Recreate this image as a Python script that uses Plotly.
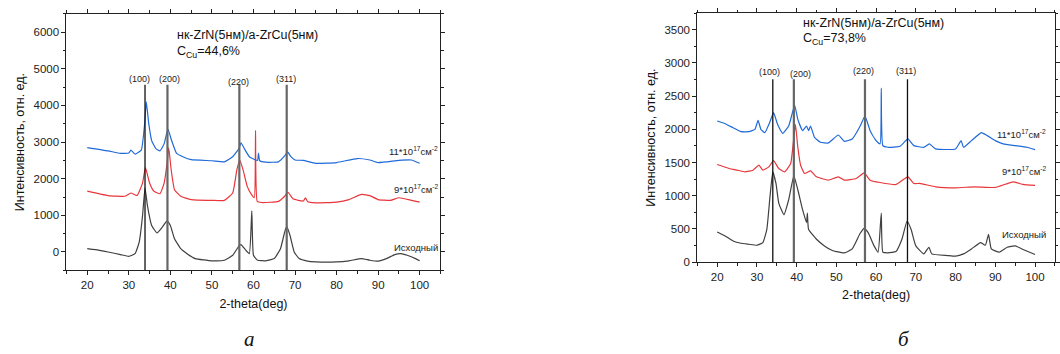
import plotly.graph_objects as go

# ---------------- data: panel a (C_Cu = 44,6%) ----------------
a_blue_x = [20, 25, 28, 30, 30.5, 31.5, 33, 33.8, 34.2, 34.8, 35.5, 36.5, 37.5, 38.5, 39.4, 40.3, 41.5, 43, 45, 50, 53, 55, 56.5, 57, 57.8, 59, 60.5, 61.0, 61.2, 61.5, 63, 66, 67.5, 68.2, 69, 70, 72, 75, 80, 85, 88, 90, 95, 98, 100]
a_blue_y = [2850, 2760, 2690, 2700, 2780, 2670, 2780, 3490, 4100, 3500, 3040, 2820, 2760, 2950, 3350, 3040, 2690, 2600, 2520, 2490, 2460, 2600, 2820, 2980, 2820, 2600, 2510, 2500, 2700, 2490, 2450, 2460, 2620, 2730, 2600, 2510, 2500, 2420, 2440, 2550, 2510, 2440, 2500, 2510, 2420]

a_red_x = [20, 25, 29, 30.5, 32, 33.3, 34, 35, 36, 37.5, 38.5, 39.2, 39.6, 40.2, 41, 42.5, 45, 50, 53, 55, 56, 56.7, 57.5, 58.5, 59.5, 60.2, 60.5, 60.9, 62, 66, 67.5, 68.3, 69.5, 72, 72.5, 73, 75, 80, 83, 86, 88, 90, 93, 95, 98, 100]
a_red_y = [1660, 1540, 1520, 1610, 1540, 1880, 2300, 1880, 1660, 1590, 1880, 2420, 2850, 2240, 1700, 1520, 1430, 1410, 1410, 1610, 2240, 2510, 2240, 1790, 1570, 1480, 3320, 1380, 1350, 1380, 1520, 1630, 1450, 1390, 1480, 1380, 1340, 1360, 1430, 1570, 1540, 1430, 1410, 1480, 1410, 1360]

a_gray_x = [20, 23, 25, 28, 30, 31.5, 32.5, 33.3, 33.9, 34.5, 35.5, 36.8, 38, 39.2, 40, 41, 42.5, 44, 46, 50, 53, 55, 56.5, 57, 58, 59, 59.6, 60, 61, 63, 65, 66.5, 67.5, 68, 68.8, 69.8, 71, 73, 75, 80, 83, 86, 88, 90, 92, 94, 95.5, 97, 99, 100]
a_gray_y = [90, 45, 0, -70, -120, -45, 270, 985, 1750, 1250, 720, 520, 670, 850, 720, 360, 90, -45, -180, -240, -225, -90, 160, 200, 70, -45, 1120, -90, -225, -240, -180, 90, 540, 690, 450, 0, -180, -250, -270, -270, -240, -180, -225, -250, -180, -70, -45, -90, -180, -240]

a_peak_x = [33.9, 39.3, 56.6, 68.0]

# ---------------- data: panel б (C_Cu = 73,8%) ----------------
b_blue_x = [20, 22, 24, 26, 28, 29.5, 30.3, 31, 32, 33.2, 34.2, 35.2, 36.5, 38, 39.5, 40.3, 41.5, 42.5, 43, 43.5, 44.5, 46, 48, 50.5, 52, 54, 56, 57.2, 58.5, 60, 61, 61.3, 61.7, 63, 66, 68, 69.5, 72, 73.4, 75, 80, 81.4, 82, 84, 86.5, 88, 90, 92, 95, 98, 100]
b_blue_y = [2125, 2085, 2025, 1965, 1965, 2000, 2135, 2000, 1950, 2100, 2250, 2075, 1940, 2050, 2360, 2150, 1980, 2050, 1980, 2050, 1880, 1805, 1795, 1915, 1820, 1855, 2050, 2200, 1980, 1830, 1780, 2620, 1755, 1730, 1745, 1855, 1755, 1730, 1780, 1705, 1705, 1830, 1730, 1830, 1950, 1905, 1830, 1780, 1755, 1730, 1695]

b_red_x = [20, 23, 25, 27, 29, 30.5, 31.5, 33, 34.2, 35.5, 37, 38.5, 39.3, 39.7, 40.3, 41, 42, 43.5, 45, 48, 50.5, 52, 55, 57, 58.5, 61, 65, 68, 69.5, 71, 75, 80, 85, 90, 94.5, 97, 100]
b_red_y = [1470, 1410, 1385, 1360, 1385, 1460, 1385, 1435, 1530, 1410, 1360, 1485, 1880, 2075, 1730, 1460, 1335, 1375, 1285, 1235, 1285, 1235, 1260, 1345, 1235, 1200, 1170, 1285, 1185, 1185, 1135, 1120, 1135, 1125, 1210, 1170, 1155]

b_gray_x = [20, 22, 24, 26, 28, 30, 31.5, 32.5, 33.3, 34, 34.8, 35.5, 36.8, 38, 39.3, 40.3, 41.5, 42.5, 42.7, 43, 45, 47, 49, 50, 52, 54, 56, 57, 58, 59.5, 60.5, 61.3, 61.7, 63, 65, 66.5, 67.8, 68.8, 70, 72, 73.3, 74, 78, 80, 82, 84, 86.3, 87.5, 88.3, 89, 91, 93, 95, 97, 100]
b_gray_y = [455, 395, 320, 285, 270, 255, 295, 495, 990, 1360, 1185, 890, 715, 940, 1300, 1090, 790, 595, 740, 495, 345, 245, 175, 160, 140, 200, 435, 510, 445, 245, 150, 740, 150, 140, 160, 345, 620, 495, 245, 125, 225, 125, 100, 90, 125, 200, 295, 255, 420, 200, 150, 225, 245, 190, 115]

b_peak_x = [34.0, 39.3, 57.2, 67.9]

peak_labels = ["(100)", "(200)", "(220)", "(311)"]
series_labels = ["11*10<sup>17</sup>см<sup>-2</sup>", "9*10<sup>17</sup>см<sup>-2</sup>", "Исходный"]

BLUE = "#1f6ad8"
RED = "#e8363a"
GRAY = "#404040"
FONT = "Liberation Sans, Arial, sans-serif"

fig = go.Figure()

def add_panel(xa, ya, blue, red, gray, peaks, ymin, ytop, lab_pos, series_y, series_x, title_y, ccu):
    for (xs, ys), col in zip([gray, red, blue], [GRAY, RED, BLUE]):
        fig.add_trace(go.Scatter(x=xs, y=ys, mode="lines",
                                 line=dict(color=col, width=1.2, shape="spline", smoothing=0.4),
                                 xaxis=xa, yaxis=ya, showlegend=False, hoverinfo="skip"))
    widths = [1.3, 2.2, 2.2, 2.2] if xa == "x" else [1.3, 2.2, 2.2, 1.3]
    cols = ["#111111", "#666666", "#666666", "#666666"] if xa == "x" else ["#111111", "#666666", "#666666", "#111111"]
    for p, w, c in zip(peaks, widths, cols):
        fig.add_trace(go.Scatter(x=[p, p], y=[ymin, ytop], mode="lines", line=dict(color=c, width=w),
                                 xaxis=xa, yaxis=ya, showlegend=False, hoverinfo="skip"))
    for lbl, (lx, ly) in zip(peak_labels, lab_pos):
        fig.add_annotation(x=lx, y=ly, xref=xa, yref=ya, text=lbl, showarrow=False,
                           font=dict(family=FONT, size=9, color="#222"), xanchor="center", yanchor="middle")
    for lbl, sy in zip(series_labels, series_y):
        fig.add_annotation(x=series_x, y=sy, xref=xa, yref=ya, text=lbl, showarrow=False,
                           font=dict(family=FONT, size=9.5, color="#222"), xanchor="right", yanchor="middle")
    fig.add_annotation(x=41.0, y=title_y[0], xref=xa, yref=ya, text="нк-ZrN(5нм)/a-ZrCu(5нм)", showarrow=False,
                       font=dict(family=FONT, size=12.5, color="#111"), xanchor="left", yanchor="middle")
    fig.add_annotation(x=41.0, y=title_y[1], xref=xa, yref=ya, text="C<sub>Cu</sub>=" + ccu, showarrow=False,
                       font=dict(family=FONT, size=12.5, color="#111"), xanchor="left", yanchor="middle")

add_panel("x", "y", (a_blue_x, a_blue_y), (a_red_x, a_red_y), (a_gray_x, a_gray_y), a_peak_x,
          -500, 4560,
          [(32.5, 4730), (39.7, 4730), (56.5, 4650), (67.9, 4730)],
          [2760, 1710, 135], 104.95, (5910, 5450), "44,6%")
add_panel("x2", "y2", (b_blue_x, b_blue_y), (b_red_x, b_red_y), (b_gray_x, b_gray_y), b_peak_x,
          0, 2755,
          [(33.2, 2857), (40.9, 2840), (56.8, 2885), (67.5, 2885)],
          [1937, 1374, 420], 103.3, (3600, 3360), "73,8%")

axis_common = dict(showline=True, linecolor="#222", linewidth=1, mirror="allticks", ticks="outside",
                   ticklen=4, tickwidth=1, tickcolor="#222", showgrid=False, zeroline=False,
                   tickfont=dict(family=FONT, size=11.5, color="#222"))

fig.update_layout(
    width=1060, height=354, margin=dict(l=0, r=0, t=0, b=0),
    paper_bgcolor="white", plot_bgcolor="white",
    xaxis=dict(domain=[0.0629, 0.4167], range=[15, 105], tickvals=[20, 30, 40, 50, 60, 70, 80, 90, 100],
               minor=dict(dtick=5, tick0=0, ticks="outside", ticklen=2.5, tickcolor="#222"),
               title=dict(text="2-theta(deg)", font=dict(family=FONT, size=12.5, color="#111"), standoff=9),
               anchor="y", **axis_common),
    yaxis=dict(domain=[0.2232, 0.9605], range=[-500, 6500], tickvals=[0, 1000, 2000, 3000, 4000, 5000, 6000],
               minor=dict(dtick=500, tick0=0, ticks="outside", ticklen=2.5, tickcolor="#222"),
               title=dict(text="Интенсивность, отн. ед.", font=dict(family=FONT, size=12.5, color="#111"), standoff=6),
               anchor="x", **axis_common),
    xaxis2=dict(domain=[0.6597, 0.998], range=[15, 105], tickvals=[20, 30, 40, 50, 60, 70, 80, 90, 100],
                minor=dict(dtick=5, tick0=0, ticks="outside", ticklen=2.5, tickcolor="#222"),
                title=dict(text="2-theta(deg)", font=dict(family=FONT, size=12.5, color="#111"), standoff=8),
                anchor="y2", **axis_common),
    yaxis2=dict(domain=[0.2466, 0.9624], range=[0, 3750], tickvals=[0, 500, 1000, 1500, 2000, 2500, 3000, 3500],
                minor=dict(dtick=250, tick0=0, ticks="outside", ticklen=2.5, tickcolor="#222"),
                title=dict(text="Интенсивность, отн. ед.", font=dict(family=FONT, size=12.5, color="#111"), standoff=6),
                anchor="x2", **axis_common),
)

fig.add_annotation(x=0.236, y=0.025, xref="paper", yref="paper", text="<i>а</i>", showarrow=False,
                   font=dict(family="Liberation Serif, Times New Roman, serif", size=21, color="#111"),
                   xanchor="center", yanchor="middle")
fig.add_annotation(x=0.8557, y=0.025, xref="paper", yref="paper", text="<i>б</i>", showarrow=False,
                   font=dict(family="Liberation Serif, Times New Roman, serif", size=21, color="#111"),
                   xanchor="center", yanchor="middle")

fig.write_html("out.html")
